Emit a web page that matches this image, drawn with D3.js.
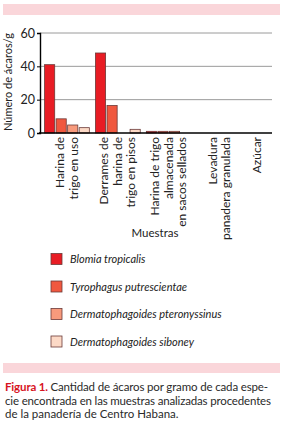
<!DOCTYPE html>
<html>
<head>
<meta charset="utf-8">
<script src="https://cdn.jsdelivr.net/npm/d3@7"></script>
<style>
  body { margin: 0; background: #fff; }
  svg { display: block; font-family: Lato, "Open Sans", sans-serif; }
</style>
</head>
<body>
<div id="chart"></div>
<script>
// muestras (categorias) con las lineas de su etiqueta
const samples = ["Harina de trigo en uso", "Derrames de harina de trigo en pisos",
  "Harina de trigo almacenada en sacos sellados", "Levadura panadera granulada", "Azúcar"];
const sampleLines = [
  ["Harina de", "trigo en uso"],
  ["Derrames de", "harina de", "trigo en pisos"],
  ["Harina de trigo", "almacenada", "en sacos sellados"],
  ["Levadura", "panadera granulada"],
  ["Azúcar"]
];
const species = ["Blomia tropicalis", "Tyrophagus putrescientae",
  "Dermatophagoides pteronyssinus", "Dermatophagoides siboney"];
const speciesColors = ["#e81c24", "#f0583f", "#f79a7c", "#fcd9c6"];
// acaros/g por muestra, una fila por especie
const blomia = [41, 48, 1, 0, 0];
const tyrophagus = [8.5, 16.5, 1, 0, 0];
const pteronyssinus = [4.8, 0, 1, 0, 0];
const siboney = [3.2, 2.2, 0, 0, 0];
const yTicks = [0, 20, 40, 60];
const captionLines = [
  "Cantidad de ácaros por gramo de cada espe-",
  "cie encontrada en las muestras analizadas procedentes",
  "de la panadería de Centro Habana."
];

const W = 283, H = 430;
const margin = {left: 40, right: 11, top: 33, bottom: 297};
const plotRight = W - margin.right;
const series = [blomia, tyrophagus, pteronyssinus, siboney];

const svg = d3.select("#chart").append("svg")
  .attr("width", W).attr("height", H);

// franjas rosadas
svg.append("rect").attr("x", 3).attr("y", 4).attr("width", 277).attr("height", 11).attr("fill", "#fad6da");
svg.append("rect").attr("x", 3).attr("y", 363).attr("width", 277).attr("height", 10).attr("fill", "#fad6da");

const x0 = d3.scaleBand().domain(samples).range([42, 295.5]).paddingInner(0.12).paddingOuter(0.05);
const x1 = d3.scaleBand().domain(species).range([0, x0.bandwidth()]).paddingInner(0.12);
const y = d3.scaleLinear().domain([0, 60]).range([133, 33]);

// rejilla
svg.append("g").selectAll("line").data(yTicks.filter(d => d > 0)).join("line")
  .attr("x1", margin.left).attr("x2", plotRight)
  .attr("y1", d => y(d)).attr("y2", d => y(d))
  .attr("stroke", "#9a9a9a").attr("stroke-width", 1);

// barras
const groups = svg.append("g").selectAll("g").data(samples).join("g")
  .attr("transform", d => `translate(${x0(d)},0)`);
groups.selectAll("rect")
  .data((s, i) => species.map((sp, j) => ({sp, j, v: series[j][i]})).filter(d => d.v > 0))
  .join("rect")
  .attr("x", d => x1(d.sp))
  .attr("width", x1.bandwidth())
  .attr("y", d => y(d.v))
  .attr("height", d => y(0) - y(d.v))
  .attr("fill", d => speciesColors[d.j])
  .attr("stroke", "#6b3a38").attr("stroke-width", 0.8);

// eje y
const yAxis = svg.append("g").attr("transform", `translate(${margin.left},0)`)
  .call(d3.axisLeft(y).tickValues(yTicks).tickSize(3).tickPadding(2));
yAxis.select(".domain").attr("stroke", "#000").attr("stroke-width", 1.4);
yAxis.selectAll("text").attr("font-size", 12.5).attr("fill", "#222").attr("font-family", "Lato, sans-serif");

// eje x
svg.append("line").attr("x1", margin.left - 1).attr("x2", plotRight)
  .attr("y1", y(0)).attr("y2", y(0)).attr("stroke", "#000").attr("stroke-width", 1.6);

const lh = 13.5;
const labels = svg.append("g").selectAll("text").data(samples).join("text")
  .attr("font-size", 12).attr("fill", "#222").attr("text-anchor", "end")
  .attr("transform", (d, i) => {
    const cx = Math.min(x0(d) + x0.bandwidth() / 2, plotRight - 15);
    const n = sampleLines[i].length;
    return `translate(${cx - (n - 1) * lh / 2 + 4},137) rotate(-90)`;
  });
labels.selectAll("tspan").data((d, i) => sampleLines[i]).join("tspan")
  .attr("x", 0).attr("dy", (d, k) => k === 0 ? 0 : lh).text(d => d);

svg.append("text").attr("x", 155).attr("y", 237).attr("text-anchor", "middle")
  .attr("font-size", 11.5).attr("fill", "#222").text("Muestras");

svg.append("text").attr("transform", "translate(12,82) rotate(-90)")
  .attr("text-anchor", "middle").attr("font-size", 11).attr("fill", "#222")
  .text("Número de ácaros/g");

// leyenda
const leg = svg.append("g").selectAll("g").data(species).join("g")
  .attr("transform", (d, i) => `translate(51,${259 + i * 27.5})`);
leg.append("rect").attr("x", 0).attr("y", -5.5).attr("width", 11).attr("height", 11)
  .attr("fill", (d, i) => speciesColors[i]).attr("stroke", "#6b3a38").attr("stroke-width", 0.8);
leg.append("text").attr("x", 19).attr("y", 4).attr("font-size", 11).attr("font-style", "italic")
  .attr("fill", "#222").text(d => d);

// pie de figura (las dos primeras lineas justificadas)
const capWidths = [263, 266, null];
captionLines.forEach((line, i) => {
  const t = svg.append("text").attr("x", 5).attr("y", 391 + i * 13.5)
    .attr("font-size", 11.5).attr("fill", "#2a2a2a");
  if (capWidths[i]) t.attr("textLength", capWidths[i]).attr("lengthAdjust", "spacing");
  if (i === 0) {
    t.append("tspan").attr("fill", "#d7141f").attr("font-weight", "bold").text("Figura 1. ");
  }
  t.append("tspan").text(line);
});
</script>
</body>
</html>
